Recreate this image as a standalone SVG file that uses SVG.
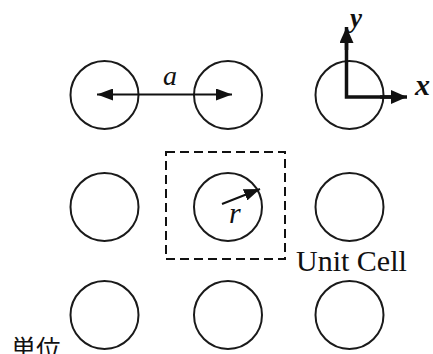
<svg xmlns="http://www.w3.org/2000/svg" width="433" height="354" viewBox="0 0 433 354">
<style>
.c{fill:none;stroke:#1a1a1a;stroke-width:2}
.l{stroke:#111;stroke-width:2;fill:none}
.ax{stroke:#111;stroke-width:3.5;fill:none}
.t{fill:#111}
</style>
<defs>
<marker id="ah" markerWidth="16" markerHeight="12" refX="16" refY="6" orient="auto-start-reverse" markerUnits="userSpaceOnUse"><path d="M0,0 L16,6 L0,12 Z" fill="#111"/></marker>
<marker id="ahb" markerWidth="16" markerHeight="14" refX="16" refY="7" orient="auto" markerUnits="userSpaceOnUse"><path d="M0,0 L16,7 L0,14 Z" fill="#111"/></marker>
</defs>
<rect width="433" height="354" fill="#fff"/>
<g id="n11"><circle class="c" cx="104.5" cy="95" r="34"/></g>
<g id="n12"><circle class="c" cx="228" cy="95" r="34"/></g>
<g id="n13"><circle class="c" cx="349.5" cy="95" r="34"/></g>
<g id="n21"><circle class="c" cx="104.5" cy="207" r="34"/></g>
<g id="n22"><circle class="c" cx="228" cy="207" r="34"/></g>
<g id="n23"><circle class="c" cx="349.5" cy="207" r="34"/></g>
<g id="n31"><circle class="c" cx="104.5" cy="315" r="34"/></g>
<g id="n32"><circle class="c" cx="228" cy="315" r="34"/></g>
<g id="n33"><circle class="c" cx="349.5" cy="315" r="34"/></g>
<g id="unitcell"><rect x="166" y="152" width="119" height="107" fill="none" stroke="#111" stroke-width="2" stroke-dasharray="9 5"/>
<text class="t" font-family="Liberation Serif, Times New Roman, serif" x="296" y="271" font-size="30">Unit Cell</text></g>
<g id="connectors">
<line class="l" x1="97" y1="94.5" x2="232" y2="94.5" marker-start="url(#ah)" marker-end="url(#ah)"/>
<line class="l" x1="222" y1="204" x2="260" y2="189" marker-end="url(#ah)"/>
<polyline class="ax" points="346.5,42 346.5,97 392,97"/>
<line class="ax" x1="346.5" y1="50" x2="346.5" y2="27" marker-end="url(#ahb)"/>
<line class="ax" x1="380" y1="97" x2="407" y2="97" marker-end="url(#ahb)"/>
</g>
<text class="t" font-family="Liberation Serif, Times New Roman, serif" font-style="italic" x="163" y="85" font-size="28">a</text>
<text class="t" font-family="Liberation Serif, Times New Roman, serif" font-style="italic" x="229" y="223" font-size="30">r</text>
<text class="t" font-family="Liberation Serif, Times New Roman, serif" font-style="italic" font-weight="bold" x="350" y="27" font-size="27">y</text>
<text class="t" font-family="Liberation Serif, Times New Roman, serif" font-style="italic" font-weight="bold" x="415" y="95" font-size="30">x</text>
<text class="t" x="11" y="358" font-size="25" font-family="Noto Sans CJK JP, sans-serif">単位</text>
</svg>
